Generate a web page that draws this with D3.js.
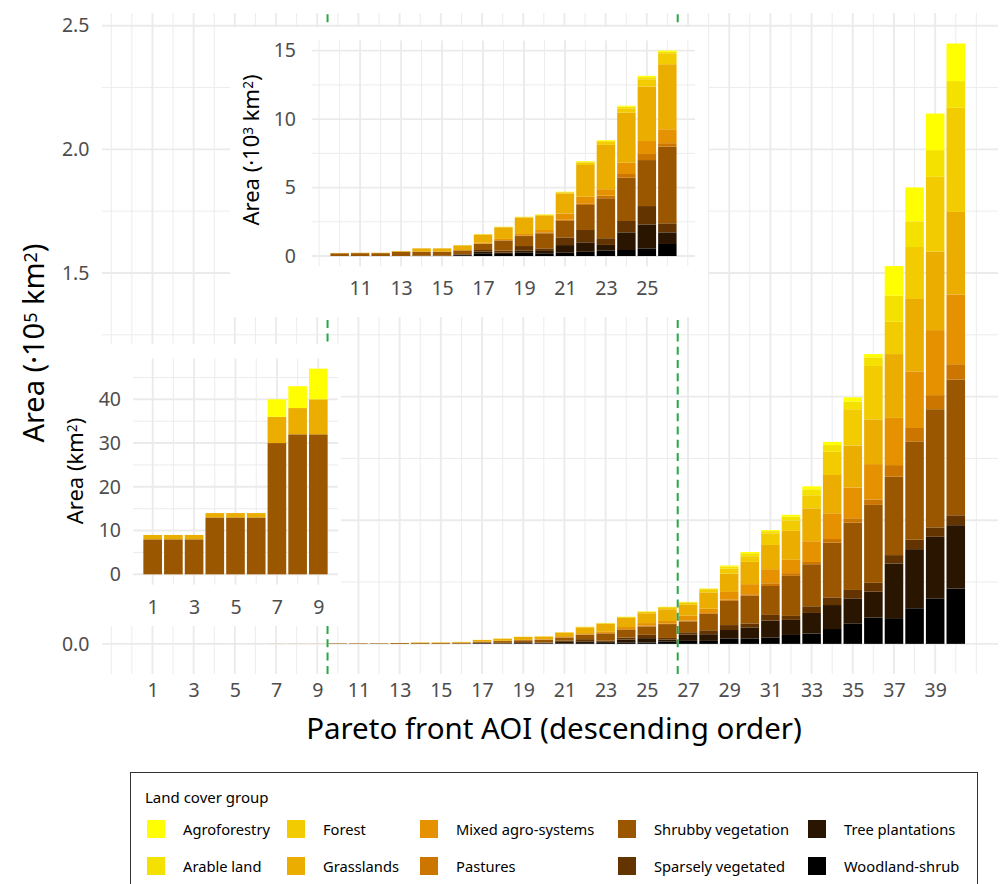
<!DOCTYPE html>
<html>
<head>
<meta charset="utf-8">
<script src="https://cdn.jsdelivr.net/npm/d3@7"></script>
<style>
  html, body { margin: 0; padding: 0; background: #ffffff; }
  svg { display: block; font-family: "Noto Sans", sans-serif; }
</style>
</head>
<body>
<svg id="chart" width="1006" height="884"></svg>
<script>
// ---- Data (areas in km²) ----
const aoi = [1, 2, 3, 4, 5, 6, 7, 8, 9, 10, 11, 12, 13, 14, 15, 16, 17, 18, 19, 20,
             21, 22, 23, 24, 25, 26, 27, 28, 29, 30, 31, 32, 33, 34, 35, 36, 37, 38, 39, 40];

const groups = ["Agroforestry", "Arable land", "Forest", "Grasslands", "Mixed agro-systems",
                "Pastures", "Shrubby vegetation", "Sparsely vegetated", "Tree plantations", "Woodland-shrub"];
const groupColors = ["#FFFF00", "#F5E100", "#F2CB00", "#EBAD00", "#E69200",
                     "#CC7600", "#9A5700", "#633400", "#2A1600", "#000000"];

const agroforestry = [0, 0, 0, 0, 0, 0, 4, 5, 7, 0, 0, 0, 0, 0, 0, 5, 10, 10, 10, 20,
  20, 40, 50, 70, 100, 100, 100, 100, 400, 500, 400, 800, 1200, 1300, 1700, 1300, 12000, 13700, 14800, 15200];
const arableLand = [0, 0, 0, 0, 0, 0, 0, 0, 0, 0, 0, 0, 0, 0, 0, 5, 10, 10, 20, 30,
  30, 70, 80, 120, 150, 100, 200, 200, 900, 1200, 900, 1500, 2400, 2700, 3100, 3500, 10500, 10400, 10800, 10800];
const forest = [0, 0, 0, 0, 0, 0, 0, 0, 0, 0, 0, 0, 0, 0, 0, 10, 20, 20, 30, 60,
  80, 180, 220, 320, 540, 800, 900, 1300, 2000, 2300, 4700, 4200, 5300, 9400, 14700, 21600, 13100, 21000, 30300, 42100];
const grasslands = [1, 1, 1, 1, 1, 1, 6, 6, 8, 25, 30, 30, 50, 230, 230, 340, 600, 850, 1200, 1040,
  1460, 2320, 3240, 3650, 3970, 4750, 4400, 6600, 7400, 9000, 9800, 11700, 13300, 15500, 17000, 18100, 25800, 29300, 31700, 33400];
const mixedAgro = [0, 0, 0, 0, 0, 0, 0, 0, 0, 0, 0, 0, 0, 10, 10, 20, 60, 80, 100, 170,
  440, 480, 470, 830, 950, 1020, 2000, 1700, 3100, 4100, 5700, 5400, 8400, 10400, 12400, 14300, 19100, 22900, 26300, 28200];
const pastures = [0, 0, 0, 0, 0, 0, 0, 0, 0, 0, 0, 0, 0, 0, 0, 10, 30, 40, 50, 70,
  100, 120, 190, 270, 440, 250, 300, 300, 500, 600, 1100, 1100, 900, 1500, 1800, 2200, 4700, 5400, 5700, 6200];
const shrubby = [8, 8, 8, 13, 13, 13, 30, 32, 32, 200, 210, 210, 320, 300, 300, 270, 440, 730, 730, 1100,
  1210, 1830, 2920, 3160, 3360, 5600, 4400, 6700, 9800, 11200, 11700, 16200, 17000, 22100, 27200, 31500, 31700, 39800, 47800, 54900];
const sparsely = [0, 0, 0, 0, 0, 0, 0, 0, 0, 0, 0, 0, 0, 10, 10, 30, 120, 150, 340, 190,
  560, 900, 490, 830, 1340, 660, 900, 1600, 2000, 1600, 2300, 1600, 2700, 3100, 3400, 3600, 3400, 3800, 3800, 4000];
const treePlantations = [0, 0, 0, 0, 0, 0, 0, 0, 0, 0, 0, 0, 0, 0, 0, 50, 120, 100, 150, 170,
  560, 690, 420, 1290, 1750, 850, 2600, 2700, 3400, 4450, 6900, 6100, 8300, 9700, 10100, 10500, 22100, 23900, 24900, 25600];
const woodlandShrub = [0, 0, 0, 0, 0, 0, 0, 0, 0, 0, 0, 0, 0, 10, 10, 60, 200, 150, 240, 200,
  240, 310, 390, 440, 560, 880, 1200, 1200, 2200, 2200, 2500, 3600, 4200, 6000, 8300, 10600, 10400, 14400, 18400, 22400];

const series = [agroforestry, arableLand, forest, grasslands, mixedAgro,
                pastures, shrubby, sparsely, treePlantations, woodlandShrub];

// Break points separating the three AOI ranges
const cutPoints = [9.5, 26.5];

// Tick labels
const mainXTicks = [1, 3, 5, 7, 9, 11, 13, 15, 17, 19, 21, 23, 25, 27, 29, 31, 33, 35, 37, 39];
const mainYTicks = [0, 50000, 100000, 150000, 200000, 250000];
const midXTicks = [11, 13, 15, 17, 19, 21, 23, 25];
const midYTicks = [0, 5000, 10000, 15000];
const lowXTicks = [1, 3, 5, 7, 9];
const lowYTicks = [0, 10, 20, 30, 40];

// ---- Setup ----
const svg = d3.select("#chart");
const color = d3.scaleOrdinal().domain(groups).range(groupColors);
const GRID = "#ebebeb";
const AXIS_TEXT = "#4d4d4d";

const table = aoi.map((a, i) => {
  const row = { aoi: a };
  groups.forEach((g, k) => { row[g] = series[k][i]; });
  return row;
});
// first legend entry sits on top of each bar
const stackGen = d3.stack().keys(groups.slice().reverse());

function drawPanel(cfg) {
  const g = svg.append("g");
  if (cfg.background) {
    const b = cfg.background;
    g.append("rect").attr("x", b[0]).attr("y", b[1]).attr("width", b[2]).attr("height", b[3])
      .attr("fill", "#ffffff");
  }
  const x = d3.scaleLinear().domain(cfg.xDomain).range(cfg.xRange);
  const y = d3.scaleLinear().domain(cfg.yDomain).range(cfg.yRange);
  const [xl, xr] = cfg.xRange;
  const [yb, yt] = cfg.yRange;

  const grid = g.append("g").attr("stroke", GRID);
  grid.selectAll("line.ymin").data(cfg.yMinor).join("line").attr("class", "ymin")
    .attr("x1", xl).attr("x2", xr).attr("y1", d => y(d)).attr("y2", d => y(d)).attr("stroke-width", 0.95);
  grid.selectAll("line.xmin").data(cfg.xMinor).join("line").attr("class", "xmin")
    .attr("y1", yb).attr("y2", yt).attr("x1", d => x(d)).attr("x2", d => x(d)).attr("stroke-width", 0.95);
  grid.selectAll("line.ymaj").data(cfg.yTicks).join("line").attr("class", "ymaj")
    .attr("x1", xl).attr("x2", xr).attr("y1", d => y(d)).attr("y2", d => y(d)).attr("stroke-width", 1.9);
  grid.selectAll("line.xmaj").data(cfg.xTicks).join("line").attr("class", "xmaj")
    .attr("y1", yb).attr("y2", yt).attr("x1", d => x(d)).attr("x2", d => x(d)).attr("stroke-width", 1.9);

  const rows = table.filter(r => r.aoi >= cfg.range[0] && r.aoi <= cfg.range[1]);
  const stacked = stackGen(rows);
  const bw = 0.9 * (x(1) - x(0));
  g.append("g").selectAll("g").data(stacked).join("g")
    .attr("fill", d => color(d.key))
    .selectAll("rect").data(d => d).join("rect")
    .attr("x", d => x(d.data.aoi) - bw / 2)
    .attr("width", bw)
    .attr("y", d => y(d[1]))
    .attr("height", d => Math.max(0, y(d[0]) - y(d[1])));

  if (cfg.vlines) {
    g.append("g").selectAll("line").data(cfg.vlines).join("line")
      .attr("x1", d => x(d)).attr("x2", d => x(d)).attr("y1", yb).attr("y2", yt)
      .attr("stroke", "#27a844").attr("stroke-width", 2).attr("stroke-dasharray", "8,5.3");
  }

  const xa = g.append("g").attr("transform", `translate(0,${yb})`)
    .call(d3.axisBottom(x).tickValues(cfg.xTicks).tickSize(0).tickPadding(cfg.xPad).tickFormat(d3.format("d")));
  const ya = g.append("g").attr("transform", `translate(${xl},0)`)
    .call(d3.axisLeft(y).tickValues(cfg.yTicks).tickSize(0).tickPadding(cfg.yPad).tickFormat(cfg.yFormat));
  [xa, ya].forEach(a => {
    a.select(".domain").remove();
    a.attr("font-family", null).attr("font-size", null);
    a.selectAll("text").attr("fill", AXIS_TEXT).style("font-size", cfg.tickSize + "px");
  });

  // y axis title
  const t = g.append("text")
    .attr("transform", `translate(${cfg.yTitle.x},${cfg.yTitle.y}) rotate(-90)`)
    .attr("text-anchor", "middle").attr("fill", "#000").style("font-size", cfg.yTitle.size + "px");
  cfg.yTitle.parts.forEach(p => {
    const s = t.append("tspan").text(p.t);
    if (p.sup) s.attr("baseline-shift", "40%").style("font-size", (cfg.yTitle.size * 0.62) + "px");
  });
  return { g, x, y };
}

// ---- Main panel: all AOIs (·10^5 km²) ----
drawPanel({
  range: [1, 40],
  xDomain: [-1.45, 42.05], xRange: [102, 998],
  yDomain: [-12150, 255150], yRange: [673.9, 13],
  xTicks: mainXTicks,
  xMinor: [-1, 0, 2, 4, 6, 8, 10, 12, 14, 16, 18, 20, 22, 24, 26, 28, 30, 32, 34, 36, 38, 40, 41],
  yTicks: mainYTicks,
  yMinor: [25000, 75000, 125000, 175000, 225000],
  yFormat: d => (d / 1e5).toFixed(1),
  xPad: 9.5, yPad: 12.5, tickSize: 19.5,
  vlines: cutPoints,
  yTitle: { x: 44, y: 343, size: 29, parts: [{ t: "Area (·10" }, { t: "5", sup: true }, { t: " km" }, { t: "2", sup: true }, { t: ")" }] }
});

// main x title
svg.append("text").attr("x", 554).attr("y", 739).attr("text-anchor", "middle")
  .attr("fill", "#000").style("font-size", "29.5px").text("Pareto front AOI (descending order)");

// ---- Inset: AOIs 10–26 (·10^3 km²) ----
drawPanel({
  background: [230, 27, 478, 290],
  range: [10, 26],
  xDomain: [8.65, 27.35], xRange: [312, 695],
  yDomain: [-750, 15750], yRange: [266.3, 40.4],
  xTicks: midXTicks,
  xMinor: [9, 10, 12, 14, 16, 18, 20, 22, 24, 26, 27],
  yTicks: midYTicks,
  yMinor: [2500, 7500, 12500],
  yFormat: d => d3.format("d")(d / 1000),
  xPad: 15, yPad: 16, tickSize: 19.5,
  yTitle: { x: 259, y: 150, size: 22, parts: [{ t: "Area (·10" }, { t: "3", sup: true }, { t: " km" }, { t: "2", sup: true }, { t: ")" }] }
});

// ---- Inset: AOIs 1–9 (km²) ----
drawPanel({
  background: [57, 344, 284, 282],
  range: [1, 9],
  xDomain: [0.05, 9.95], xRange: [133, 338],
  yDomain: [-2.35, 49.35], yRange: [584.6, 358.4],
  xTicks: lowXTicks,
  xMinor: [2, 4, 6, 8],
  yTicks: lowYTicks,
  yMinor: [5, 15, 25, 35, 45],
  yFormat: d3.format("d"),
  xPad: 15.5, yPad: 12, tickSize: 19.5,
  yTitle: { x: 83, y: 471, size: 22, parts: [{ t: "Area (km" }, { t: "2", sup: true }, { t: ")" }] }
});

// ---- Legend ----
const legend = svg.append("g");
legend.append("rect").attr("x", 130.5).attr("y", 772.5).attr("width", 847).attr("height", 130)
  .attr("fill", "#fff").attr("stroke", "#333").attr("stroke-width", 1);
legend.append("text").attr("x", 145).attr("y", 803).attr("fill", "#000")
  .style("font-size", "15px").text("Land cover group");
const colX = [147, 287, 420, 618, 808];
const rowY = [829, 866];
const items = legend.selectAll("g.item").data(groups).join("g").attr("class", "item")
  .attr("transform", (d, i) => `translate(${colX[Math.floor(i / 2)]},${rowY[i % 2]})`);
items.append("rect").attr("x", 0).attr("y", -9).attr("width", 18).attr("height", 18)
  .attr("fill", d => color(d));
items.append("text").attr("x", 36).attr("y", 5.5).attr("fill", "#000")
  .style("font-size", "14.7px").text(d => d);
</script>
</body>
</html>
